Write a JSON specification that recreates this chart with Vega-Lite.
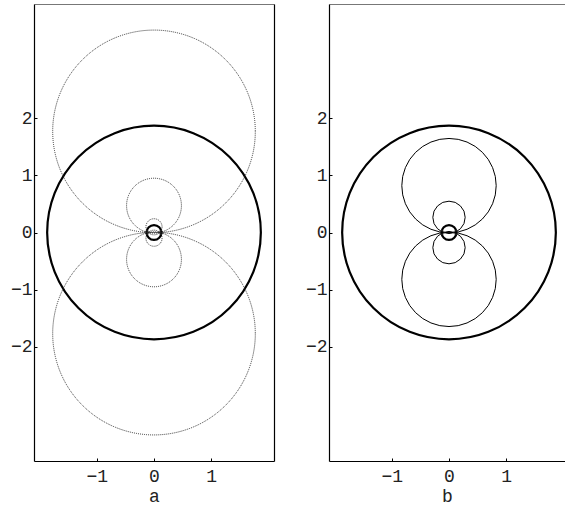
{
  "$schema": "https://vega.github.io/schema/vega-lite/v6.json",
  "padding": {"left": 10, "top": 4, "right": 0, "bottom": 0},
  "bounds": "flush",
  "spacing": 55,
  "background": "white",
  "config": {
    "view": {"stroke": null},
    "axis": {
      "grid": false,
      "labelFont": "Liberation Mono",
      "labelFontSize": 18,
      "labelColor": "#222",
      "titleFont": "Liberation Mono",
      "titleFontSize": 18,
      "titleFontWeight": "normal",
      "titleColor": "#222",
      "domainColor": "#000",
      "domainWidth": 1.2,
      "tickColor": "#000",
      "tickSize": -3,
      "labelPadding": 5,
      "titlePadding": 2
    }
  },
  "datasets": {
    "c": [
      {"panel": "a", "kind": "thick", "cx": 0, "cy": 0, "r": 1.87},
      {"panel": "a", "kind": "thick", "cx": 0, "cy": 0, "r": 0.13},
      {"panel": "a", "kind": "field", "cx": 0, "cy": 1.77, "r": 1.773},
      {"panel": "a", "kind": "field", "cx": 0, "cy": -1.77, "r": 1.773},
      {"panel": "a", "kind": "field", "cx": 0, "cy": 0.47, "r": 0.48},
      {"panel": "a", "kind": "field", "cx": 0, "cy": -0.47, "r": 0.48},
      {"panel": "a", "kind": "field", "cx": 0, "cy": 0.1, "r": 0.141},
      {"panel": "a", "kind": "field", "cx": 0, "cy": -0.1, "r": 0.141},
      {"panel": "a", "kind": "tiny", "cx": -0.12, "cy": 0, "r": 0.035},
      {"panel": "a", "kind": "tiny", "cx": 0.12, "cy": 0, "r": 0.035},
      {"panel": "b", "kind": "thick", "cx": 0, "cy": 0, "r": 1.87},
      {"panel": "b", "kind": "thick", "cx": 0, "cy": 0, "r": 0.13},
      {"panel": "b", "kind": "field", "cx": 0, "cy": 0.82, "r": 0.826},
      {"panel": "b", "kind": "field", "cx": 0, "cy": -0.82, "r": 0.826},
      {"panel": "b", "kind": "field", "cx": 0, "cy": 0.265, "r": 0.283},
      {"panel": "b", "kind": "field", "cx": 0, "cy": -0.265, "r": 0.283},
      {"panel": "b", "kind": "tiny", "cx": -0.12, "cy": 0, "r": 0.035},
      {"panel": "b", "kind": "tiny", "cx": 0.12, "cy": 0, "r": 0.035}
    ]
  },
  "hconcat": [
    {
      "width": 240,
      "height": 457,
      "data": {"name": "c"},
      "transform": [{"filter": "datum.panel == 'a'"}],
      "layer": [
        {
          "transform": [{"filter": "datum.kind == 'thick'"}],
          "mark": {"type": "point", "filled": false, "stroke": "#000", "strokeWidth": 2.2, "opacity": 1},
          "encoding": {
            "x": {"field": "cx", "type": "quantitative", "scale": {"domain": [-2.1, 2.1], "nice": false, "zero": false}, "axis": {"values": [-1, 0, 1], "title": "a", "labelPadding": 9}},
            "y": {"field": "cy", "type": "quantitative", "scale": {"domain": [-4, 4], "nice": false, "zero": false}, "axis": {"values": [-2, -1, 0, 1, 2], "title": null}},
            "size": {"field": "r", "type": "quantitative", "scale": {"type": "pow", "exponent": 2, "domain": [0, 1], "range": [0, 13060], "clamp": false}, "legend": null}
          }
        },
        {
          "transform": [{"filter": "datum.kind == 'field'"}],
          "mark": {"type": "point", "filled": false, "stroke": "#222", "strokeWidth": 0.9, "strokeDash": [1, 1], "opacity": 1},
          "encoding": {
            "x": {"field": "cx", "type": "quantitative", "scale": {"domain": [-2.1, 2.1], "nice": false, "zero": false}, "axis": {"orient": "top", "labels": false, "ticks": false, "title": null, "domainColor": "#777"}},
            "y": {"field": "cy", "type": "quantitative", "scale": {"domain": [-4, 4], "nice": false, "zero": false}, "axis": {"orient": "right", "labels": false, "ticks": false, "title": null}},
            "size": {"field": "r", "type": "quantitative", "scale": {"type": "pow", "exponent": 2, "domain": [0, 1], "range": [0, 13060], "clamp": false}, "legend": null}
          }
        },
        {
          "transform": [{"filter": "datum.kind == 'tiny'"}],
          "mark": {"type": "point", "filled": false, "stroke": "#333", "strokeWidth": 0.8, "opacity": 1},
          "encoding": {
            "x": {"field": "cx", "type": "quantitative", "scale": {"domain": [-2.1, 2.1], "nice": false, "zero": false}, "axis": null},
            "y": {"field": "cy", "type": "quantitative", "scale": {"domain": [-4, 4], "nice": false, "zero": false}, "axis": null},
            "size": {"field": "r", "type": "quantitative", "scale": {"type": "pow", "exponent": 2, "domain": [0, 1], "range": [0, 13060], "clamp": false}, "legend": null}
          }
        }
      ],
      "resolve": {"axis": {"x": "independent", "y": "independent"}}
    },
    {
      "width": 236,
      "height": 457,
      "data": {"name": "c"},
      "transform": [{"filter": "datum.panel == 'b'"}],
      "layer": [
        {
          "transform": [{"filter": "datum.kind == 'thick'"}],
          "mark": {"type": "point", "filled": false, "stroke": "#000", "strokeWidth": 2.2, "opacity": 1},
          "encoding": {
            "x": {"field": "cx", "type": "quantitative", "scale": {"domain": [-2.1, 2.03], "nice": false, "zero": false}, "axis": {"values": [-1, 0, 1], "title": "b", "labelPadding": 9}},
            "y": {"field": "cy", "type": "quantitative", "scale": {"domain": [-4, 4], "nice": false, "zero": false}, "axis": {"values": [-2, -1, 0, 1, 2], "title": null}},
            "size": {"field": "r", "type": "quantitative", "scale": {"type": "pow", "exponent": 2, "domain": [0, 1], "range": [0, 13060], "clamp": false}, "legend": null}
          }
        },
        {
          "transform": [{"filter": "datum.kind == 'field'"}],
          "mark": {"type": "point", "filled": false, "stroke": "#000", "strokeWidth": 1, "opacity": 1},
          "encoding": {
            "x": {"field": "cx", "type": "quantitative", "scale": {"domain": [-2.1, 2.03], "nice": false, "zero": false}, "axis": {"orient": "top", "labels": false, "ticks": false, "title": null, "domainColor": "#777"}},
            "y": {"field": "cy", "type": "quantitative", "scale": {"domain": [-4, 4], "nice": false, "zero": false}, "axis": null},
            "size": {"field": "r", "type": "quantitative", "scale": {"type": "pow", "exponent": 2, "domain": [0, 1], "range": [0, 13060], "clamp": false}, "legend": null}
          }
        },
        {
          "transform": [{"filter": "datum.kind == 'tiny'"}],
          "mark": {"type": "point", "filled": false, "stroke": "#333", "strokeWidth": 0.8, "opacity": 1},
          "encoding": {
            "x": {"field": "cx", "type": "quantitative", "scale": {"domain": [-2.1, 2.03], "nice": false, "zero": false}, "axis": null},
            "y": {"field": "cy", "type": "quantitative", "scale": {"domain": [-4, 4], "nice": false, "zero": false}, "axis": null},
            "size": {"field": "r", "type": "quantitative", "scale": {"type": "pow", "exponent": 2, "domain": [0, 1], "range": [0, 13060], "clamp": false}, "legend": null}
          }
        }
      ],
      "resolve": {"axis": {"x": "independent", "y": "independent"}}
    }
  ]
}
